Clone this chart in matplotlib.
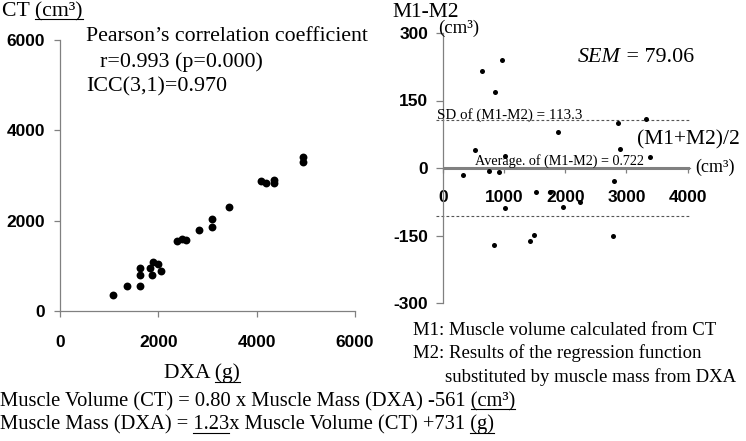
import matplotlib
matplotlib.use("Agg")
import matplotlib.pyplot as plt
from matplotlib.lines import Line2D
from matplotlib.text import Text

plt.rcParams["axes.unicode_minus"] = False

# ---------------- data ----------------
dxa_g = [1084, 1357, 1627, 1627, 1627, 1830, 1865, 1897, 1999, 2054, 2373, 2475,
         2556, 2833, 3085, 3085, 3437, 4088, 4183, 4352, 4352, 4936, 4936]
ct_cm3 = [361, 544, 560, 951, 788, 951, 788, 1075, 1046, 876, 1540, 1593,
          1562, 1783, 2042, 1858, 2301, 2889, 2832, 2905, 2845, 3420, 3296]

ba_mean = [645, 972, 846, 530, 1021, 1882, 2864, 3318, 2903, 3383, 327, 753,
           917, 2799, 1517, 1757, 1964, 2237, 1010, 830, 1419, 1484, 2782]
ba_diff = [216, 240, 169, 40, 26, 79, 99, 110, 43, 24, -16, -7,
           -9, -28, -54, -54, -86, -76, -88, -172, -163, -149, -151]

avg_diff = 0.722
sd_line = 107          # drawn position of the SD lines
left_ticks = [0, 2000, 4000, 6000]
right_xticks = [0, 1000, 2000, 3000, 4000]
right_yticks = [-300, -150, 0, 150, 300]

# ---------------- figure ----------------
W, H = 746, 441
fig = plt.figure(figsize=(W / 100, H / 100), dpi=100)
renderer = fig.canvas.get_renderer()
SERIF = "Liberation Serif"
SANS = "Liberation Sans"
GRAY = "#808080"


def fx(x):
    return x / W


def fy(y):
    return 1 - y / H


def width_px(s, size, style="normal"):
    t = Text(0, 0, s, fontsize=size, family=SERIF, style=style)
    t.set_figure(fig)
    return t.get_window_extent(renderer).width


def adv(prefix, size, style="normal"):
    # advance width of prefix (robust to trailing spaces)
    if not prefix:
        return 0.0
    return width_px(prefix + "x", size, style) - width_px("x", size, style)


def text_px(x, y, s, size, ha="left", style="normal", underline=()):
    if ha == "center":
        x = x - width_px(s, size, style) / 2
    fig.text(fx(x), fy(y), s, fontsize=size, family=SERIF, style=style,
             va="baseline", ha="left")
    for sub in underline:
        i = s.index(sub)
        x0 = x + adv(s[:i], size, style)
        x1 = x + adv(s[:i + len(sub)], size, style)
        fig.add_artist(Line2D([fx(x0), fx(x1)], [fy(y + 3.3)] * 2,
                              transform=fig.transFigure, color="black", lw=0.8))


def style_ticks(ax, xpad, ypad, xlen, ylen):
    ax.tick_params(axis="x", direction="out", length=xlen, width=0.9,
                   color=GRAY, pad=xpad, labelsize=12.5)
    ax.tick_params(axis="y", direction="out", length=ylen, width=0.9,
                   color=GRAY, pad=ypad, labelsize=12.5)
    for lab in ax.get_xticklabels() + ax.get_yticklabels():
        lab.set_fontweight("bold")
        lab.set_family(SANS)


# ---------------- left: CT vs DXA ----------------
ax1 = fig.add_axes([fx(60), fy(311), (355 - 60) / W, (311 - 40) / H])
ax1.scatter(dxa_g, ct_cm3, s=32, color="black", linewidths=0, zorder=3)
ax1.set_xlim(0, 6000)
ax1.set_ylim(0, 6000)
ax1.set_xticks(left_ticks)
ax1.set_yticks(left_ticks)
for sp in ("top", "right"):
    ax1.spines[sp].set_visible(False)
for sp in ("left", "bottom"):
    ax1.spines[sp].set_color(GRAY)
    ax1.spines[sp].set_linewidth(0.9)
style_ticks(ax1, xpad=13, ypad=6.5, xlen=4.3, ylen=4.3)

# ---------------- right: Bland-Altman ----------------
ax2 = fig.add_axes([fx(443), fy(303), (690 - 443) / W, (303 - 33) / H])
ax2.set_xlim(0, 4040)
ax2.set_ylim(-300, 300)
ax2.set_xticks(right_xticks)
ax2.set_yticks(right_yticks)
for sp in ("top", "right"):
    ax2.spines[sp].set_visible(False)
ax2.spines["bottom"].set_position(("data", 0))
for sp in ("left", "bottom"):
    ax2.spines[sp].set_color(GRAY)
    ax2.spines[sp].set_linewidth(0.9)
ax2.axhline(avg_diff, color=GRAY, lw=2.2, zorder=2)
for v in (sd_line, -sd_line):
    ax2.axhline(v, xmin=-0.028, xmax=1.004, color="#555555", lw=0.8,
                ls=(0, (2.5, 2)), clip_on=False, zorder=2)
ax2.scatter(ba_mean, ba_diff, s=13, color="black", linewidths=0, zorder=3)
style_ticks(ax2, xpad=12, ypad=5.8, xlen=3.6, ylen=4.8)

# ---------------- texts ----------------
text_px(2, 16, "CT (cm³)", 15.7, underline=["(cm³)"])
text_px(86, 40.7, "Pearson’s correlation coefficient", 15.7)
text_px(100, 66.5, "r=0.993 (p=0.000)", 15.8)
text_px(86, 91.5, "ICC(3,1)=0.970", 15.8)

text_px(392, 17, "M1-M2", 15.5)
text_px(438, 33, "(cm³)", 13.5)
sem_size = 15.8
fig.text(fx(578), fy(61.7), "SEM", fontsize=sem_size, family=SERIF,
         style="italic", va="baseline")
x_eq = 578 + adv("SEM", sem_size, "italic")
text_px(x_eq, 61.7, " = 79.06", sem_size)
text_px(437, 119, "SD of (M1-M2) = 113.3", 10.8)
text_px(637, 144, "(M1+M2)/2", 15.5)
text_px(475, 165, "Average. of (M1-M2) = 0.722", 10.2)
text_px(695, 172, "(cm³)", 13)

text_px(413, 335, "M1: Muscle volume calculated from CT", 13.5)
text_px(413, 358, "M2: Results of the regression function", 13.5)
text_px(445, 381.5, "substituted by muscle mass from DXA", 13.5)

text_px(202, 378.3, "DXA (g)", 15.5, ha="center", underline=["(g)"])
text_px(0, 406, "Muscle Volume (CT) = 0.80 x Muscle Mass (DXA) -561 (cm³)", 14.8,
        underline=["(cm³)"])
text_px(0, 429.5, "Muscle Mass (DXA) = 1.23x Muscle Volume (CT) +731 (g)", 14.8,
        underline=["1.23", "(g)"])

fig.savefig("out.png", dpi=100)
